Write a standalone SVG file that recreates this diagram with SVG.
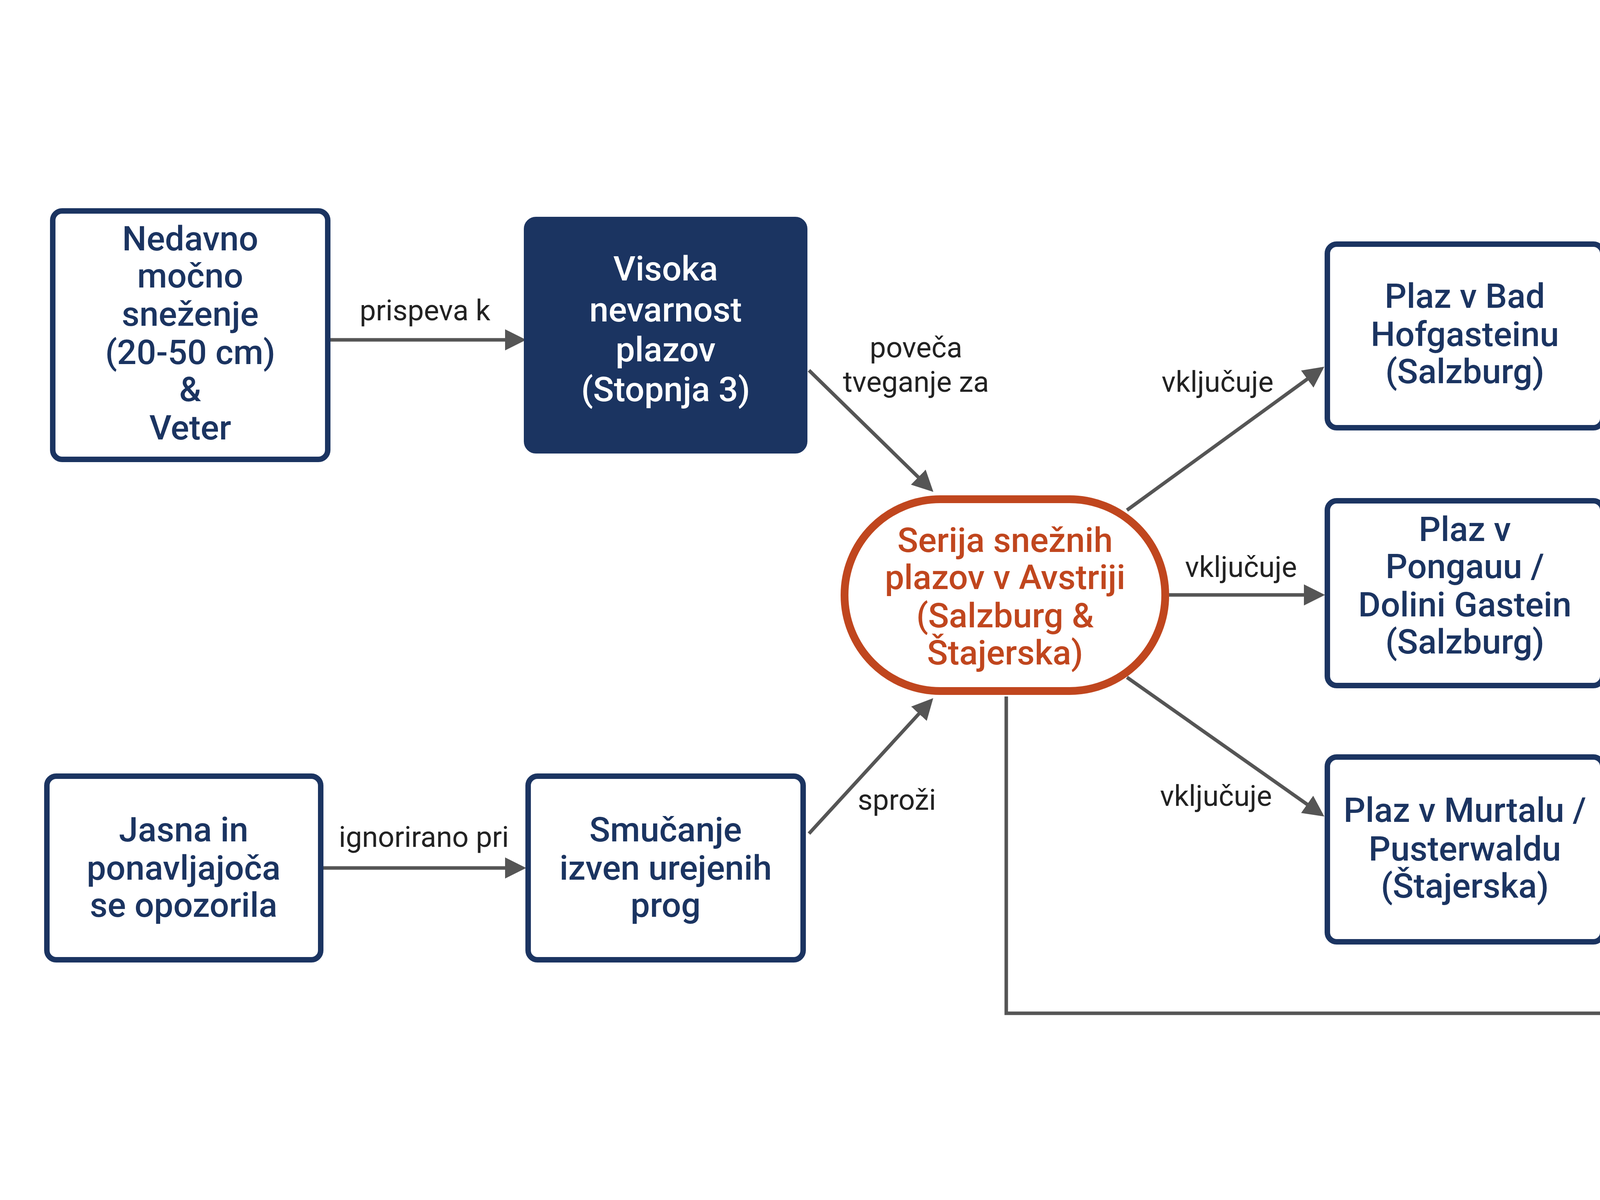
<svg xmlns="http://www.w3.org/2000/svg" width="5504" height="3072" viewBox="0 0 5504 3072">
<style>
.t{font-family:Roboto,"Liberation Sans",sans-serif;font-weight:500;font-size:88px;text-anchor:middle;dominant-baseline:middle}
.w{fill:#fff}.n{fill:#1b3461}.o{fill:#c0461e}
.box{fill:#fff;stroke:#1b3461;stroke-width:14}
.fill{fill:#1b3461;stroke:#1b3461;stroke-width:14}
.e{stroke:#555;stroke-width:9;fill:none;marker-end:url(#a)}
.l{font-family:Roboto,"Liberation Sans",sans-serif;font-size:74px;fill:#222;text-anchor:middle;dominant-baseline:middle}
</style>
<defs><marker id="a" markerWidth="6" markerHeight="6" refX="5" refY="3" orient="auto" markerUnits="strokeWidth"><path d="M0,0 L6,3 L0,6 z" fill="#555"/></marker></defs>
<rect width="5504" height="3072" fill="#fff"/>
<g id="edges">
<path class="e" d="M842,870 L1338,870"/>
<path class="e" d="M2071,948 L2383,1253"/>
<path class="e" d="M825,2222 L1338,2222"/>
<path class="e" d="M2071,2134 L2383,1794"/>
<path class="e" d="M2885,1306 L3383,944"/>
<path class="e" d="M2990,1523 L3383,1523"/>
<path class="e" d="M2885,1734 L3383,2085"/>
<path class="e" d="M4114,899 L4640,1254"/>
<path class="e" d="M4107,1523 L4640,1523"/>
<path class="e" d="M4114,2099 L4640,1733"/>
<path class="e" d="M2576,1783 L2576,2594 L4640,2594"/>
<text class="l" x="1088" y="800">prispeva k</text>
<text class="l" x="2345" y="895">poveča</text><text class="l" x="2345" y="983">tveganje za</text>
<text class="l" x="1085" y="2148">ignorirano pri</text>
<text class="l" x="2296" y="2053">sproži</text>
<text class="l" x="3117" y="983">vključuje</text>
<text class="l" x="3177" y="1457">vključuje</text>
<text class="l" x="3113" y="2043">vključuje</text>
<text class="l" x="4496" y="944">povzroči smrt</text>
<text class="l" x="4380" y="1369">povzroči smrt</text><text class="l" x="4380" y="1453">in poškodbe</text>
<text class="l" x="4486" y="2050">povzroči smrt</text>
<text class="l" x="4388" y="2524">sproži odziv</text>
</g>
<g id="n1"><rect class="box" x="135" y="540" width="704" height="636" rx="24"/>
<text class="t n" x="487"><tspan x="487" y="618">Nedavno</tspan><tspan x="487" y="713">močno</tspan><tspan x="487" y="811">sneženje</tspan><tspan x="487" y="909">(20-50 cm)</tspan><tspan x="487" y="1004">&amp;</tspan><tspan x="487" y="1102">Veter</tspan></text></g>
<g id="n2"><rect class="fill" x="1348" y="562" width="712" height="592" rx="24"/>
<text class="t w"><tspan x="1704" y="695">Visoka</tspan><tspan x="1704" y="800">nevarnost</tspan><tspan x="1704" y="902">plazov</tspan><tspan x="1704" y="1004">(Stopnja 3)</tspan></text></g>
<g id="n3"><rect x="2162" y="1278" width="821" height="491" rx="245" fill="#fff" stroke="#c0461e" stroke-width="20"/>
<text class="t o"><tspan x="2573" y="1390">Serija snežnih</tspan><tspan x="2573" y="1485">plazov v Avstriji</tspan><tspan x="2573" y="1583">(Salzburg &amp;</tspan><tspan x="2573" y="1678">Štajerska)</tspan></text></g>
<g id="n4"><rect class="box" x="3398" y="625" width="705" height="470" rx="24"/>
<text class="t n"><tspan x="3750" y="765">Plaz v Bad</tspan><tspan x="3750" y="863">Hofgasteinu</tspan><tspan x="3750" y="958">(Salzburg)</tspan></text></g>
<g id="n5"><rect class="box" x="3398" y="1282" width="705" height="473" rx="24"/>
<text class="t n"><tspan x="3750" y="1362">Plaz v</tspan><tspan x="3750" y="1457">Pongauu /</tspan><tspan x="3750" y="1555">Dolini Gastein</tspan><tspan x="3750" y="1650">(Salzburg)</tspan></text></g>
<g id="n6"><rect class="box" x="3398" y="1938" width="705" height="473" rx="24"/>
<text class="t n"><tspan x="3750" y="2081">Plaz v Murtalu /</tspan><tspan x="3750" y="2180">Pusterwaldu</tspan><tspan x="3750" y="2275">(Štajerska)</tspan></text></g>
<g id="n7"><rect class="fill" x="4655" y="1218" width="711" height="582" rx="24"/>
<text class="t w"><tspan x="5010" y="1320">8 smrtnih žrtev</tspan><tspan x="5010" y="1418">(Avstrijci, Čehi)</tspan><tspan x="5010" y="1513">&amp;</tspan><tspan x="5010" y="1608">Več</tspan><tspan x="5010" y="1706">poškodovanih</tspan></text></g>
<g id="n8"><rect class="box" x="4658" y="2342" width="705" height="473" rx="24"/>
<text class="t n"><tspan x="5010" y="2432">Obsežne</tspan><tspan x="5010" y="2531">reševalne akcije</tspan><tspan x="5010" y="2626">&amp;</tspan><tspan x="5010" y="2724">Izjave pristojnih</tspan></text></g>
<g id="n9"><rect class="box" x="120" y="1987" width="701" height="470" rx="24"/>
<text class="t n"><tspan x="470" y="2131">Jasna in</tspan><tspan x="470" y="2229">ponavljajoča</tspan><tspan x="470" y="2324">se opozorila</tspan></text></g>
<g id="n10"><rect class="box" x="1352" y="1987" width="704" height="470" rx="24"/>
<text class="t n"><tspan x="1704" y="2131">Smučanje</tspan><tspan x="1704" y="2229">izven urejenih</tspan><tspan x="1704" y="2324">prog</tspan></text></g>
</svg>
